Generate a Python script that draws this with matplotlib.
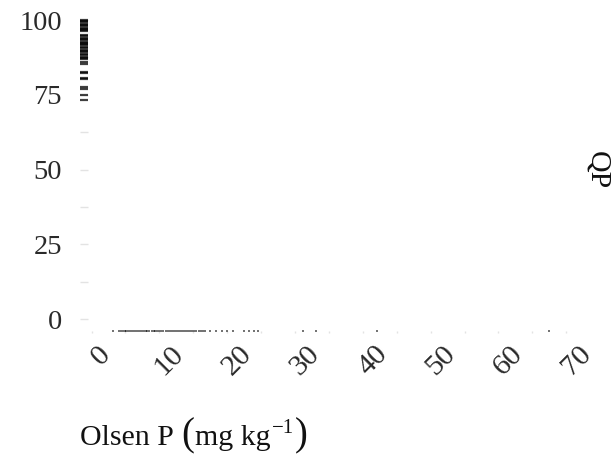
import matplotlib
matplotlib.use('Agg')
import matplotlib.pyplot as plt
import matplotlib.transforms as mtransforms

plt.rcParams['font.family'] = ['Liberation Serif', 'DejaVu Serif']

# rug values
olsen_p = [3.2, 4.0, 4.3, 4.6, 4.9, 5.1, 5.4, 5.7, 6.0, 6.3, 6.5, 6.8, 7.1, 7.4,
           7.7, 8.0, 8.2, 8.5, 8.9, 9.2, 9.4, 9.7, 10.0, 10.3, 10.6, 10.9, 11.2,
           11.5, 11.8, 12.1, 12.4, 12.7, 13.0, 13.3, 13.6, 13.9, 14.2, 14.5, 14.8,
           15.1, 15.4, 15.8, 16.1, 16.4, 16.7, 17.5, 18.3, 19.2, 20.0, 20.9, 22.5,
           23.2, 24.0, 24.5, 31.2, 33.1, 42.1, 67.5]
qp = [100.0, 99.6, 99.2, 98.8, 98.4, 98.0, 97.5, 97.1, 96.7, 96.2, 95.0, 94.6,
      94.1, 93.7, 93.3, 92.8, 92.4, 91.9, 91.5, 91.0, 90.6, 90.1, 89.6, 89.2,
      88.7, 88.2, 87.8, 87.3, 86.9, 86.0, 85.3, 82.7, 82.3, 80.7, 80.2, 77.7,
      76.9, 74.9, 73.2]

x_ticks = [0, 10, 20, 30, 40, 50, 60, 70]
x_minor = [5, 15, 25, 35, 45, 55, 65]
y_ticks = [0, 25, 50, 75, 100]
y_minor = [12.5, 37.5, 62.5, 87.5]

fig = plt.figure(figsize=(6.16, 4.65), dpi=100)
ax = fig.add_axes([80 / 616, 132 / 465, 500 / 616, 318 / 465])
ax.set_xlim(-1.71, 72.03)
ax.set_ylim(-4.68, 101.7)
for s in ax.spines.values():
    s.set_visible(False)

tick_col = '#e3e3e3'
ax.set_yticks(y_ticks)
ax.set_yticks(y_minor, minor=True)
ax.set_yticklabels([str(v) for v in y_ticks])
ax.tick_params(axis='y', which='both', direction='in', length=5.8, width=1,
               color=tick_col, pad=13, labelsize=20.5, labelcolor='#2a2a2a')
ax.set_xticks(x_ticks)
ax.set_xticks(x_minor, minor=True)
ax.tick_params(axis='x', which='both', direction='in', length=1.5, width=1,
               color=tick_col, labelbottom=False)

# rugs
ax.vlines(olsen_p, 0.003, 0.010, transform=ax.get_xaxis_transform(),
          colors='black', alpha=0.65, linewidth=1.2)
ax.hlines(qp, 0.0, 0.016, transform=ax.get_yaxis_transform(),
          colors='black', alpha=0.75, linewidth=1.6)

# rotated x tick labels
tr = mtransforms.blended_transform_factory(ax.transData, ax.transAxes)
tr = tr + mtransforms.ScaledTranslation(10 / 100, -8 / 100, fig.dpi_scale_trans)
for v in x_ticks:
    ax.text(v, 0, str(v), transform=tr, rotation=45, ha='center', va='top',
            fontsize=21.5, color='#2a2a2a')

# x title with tall parentheses, pieces laid out on one baseline
fs = 21.5
col = '#111111'
renderer = fig.canvas.get_renderer()
# (text, size, raise in px)
pieces = [('Olsen P ', fs, 0), ('(', fs * 1.3, 0), ('mg kg', fs, 0),
          ('\u22121', fs * 0.7, 12), (')', fs * 1.3, 0)]
x_px = 80
base_px = 445
for s, size, up in pieces:
    t = fig.text(x_px / 616, 1 - (base_px - up) / 465, s, ha='left',
                 va='baseline', fontsize=size, color=col)
    x_px += t.get_window_extent(renderer).width + 1

fig.text(597 / 616, 1 - 170 / 465, 'QP', rotation=-90, ha='center', va='center',
         fontsize=fs, color=col)

fig.savefig('out.png', dpi=100)
